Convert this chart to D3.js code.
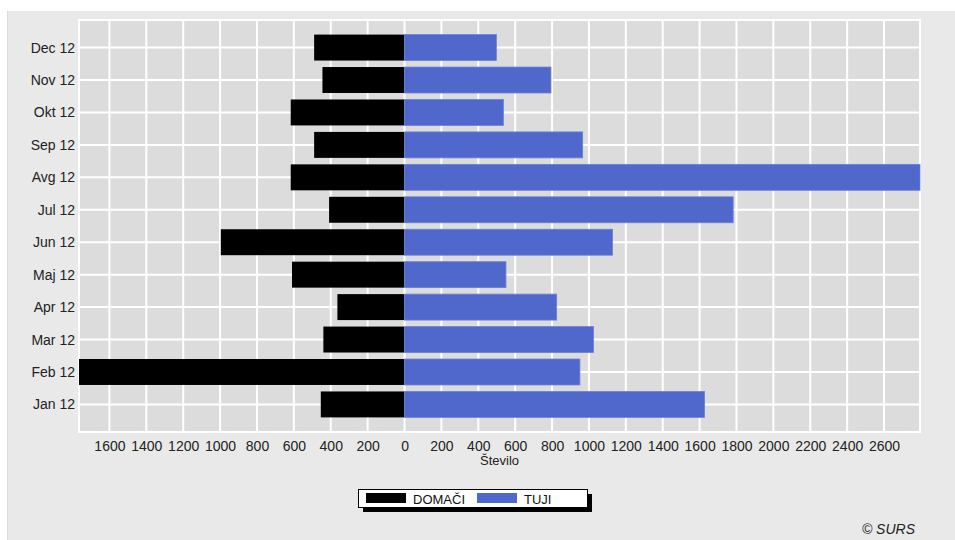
<!DOCTYPE html>
<html>
<head>
<meta charset="utf-8">
<script src="https://cdn.jsdelivr.net/npm/d3@7"></script>
<style>
  body { margin: 0; background: #fff; }
  text { font-family: Arial, "Liberation Sans", sans-serif; }
</style>
</head>
<body>
<div id="chart"></div>
<script>
// months, top to bottom as drawn
var months = ["Dec 12", "Nov 12", "Okt 12", "Sep 12", "Avg 12", "Jul 12", "Jun 12", "Maj 12", "Apr 12", "Mar 12", "Feb 12", "Jan 12"]
var domaci = [490, 445, 617, 490, 617, 409, 996, 610, 364, 440, 1765, 454]
var tuji = [498, 794, 536, 966, 2795, 1782, 1128, 550, 825, 1025, 951, 1627]
var xTicks = [-1600, -1400, -1200, -1000, -800, -600, -400, -200, 0, 200, 400, 600, 800, 1000, 1200, 1400, 1600, 1800, 2000, 2200, 2400, 2600]
var seriesNames = ["DOMAČI", "TUJI"]
var seriesColors = ["#000000", "#5068cc"]

var W = 955, H = 540
var margin = {top: 20, right: 35, bottom: 108, left: 79},
    width = W - margin.left - margin.right,
    height = H - margin.top - margin.bottom

var svg = d3.select("#chart").append("svg")
    .attr("width", W)
    .attr("height", H)

// outer panel
svg.append("rect")
    .attr("x", 7).attr("y", 11)
    .attr("width", W - 7).attr("height", H - 11)
    .attr("fill", "#e9e9e9")
svg.append("line")
    .attr("x1", 7.5).attr("x2", 7.5).attr("y1", 11).attr("y2", H)
    .attr("stroke", "#d6dde6")

var g = svg.append("g")
    .attr("transform", "translate(" + margin.left + "," + margin.top + ")")

var x = d3.scaleLinear()
    .domain([-d3.max(domaci), d3.max(tuji)])
    .range([0, width])

var y = d3.scalePoint()
    .domain(months)
    .range([0, height])
    .padding(0.85)

var barH = y.step() * 0.8

g.append("rect")
    .attr("width", width).attr("height", height)
    .attr("fill", "#dcdcdc")

// grid
g.selectAll(".vgrid").data(xTicks).enter().append("line")
    .attr("x1", function(d) { return x(d) }).attr("x2", function(d) { return x(d) })
    .attr("y1", 0).attr("y2", height)
    .attr("stroke", "#fff").attr("stroke-width", 2)

g.selectAll(".hgrid").data(months).enter().append("line")
    .attr("x1", 0).attr("x2", width)
    .attr("y1", function(d) { return y(d) }).attr("y2", function(d) { return y(d) })
    .attr("stroke", "#fff").attr("stroke-width", 2)

g.append("rect")
    .attr("width", width).attr("height", height)
    .attr("fill", "none").attr("stroke", "#fff").attr("stroke-width", 2)

// bars
g.selectAll(".dom").data(domaci).enter().append("rect")
    .attr("x", function(d) { return x(-d) })
    .attr("y", function(d, i) { return y(months[i]) - barH / 2 })
    .attr("width", function(d) { return x(0) - x(-d) })
    .attr("height", barH)
    .attr("fill", seriesColors[0])

g.selectAll(".tuj").data(tuji).enter().append("rect")
    .attr("x", x(0))
    .attr("y", function(d, i) { return y(months[i]) - barH / 2 })
    .attr("width", function(d) { return x(d) - x(0) })
    .attr("height", barH)
    .attr("fill", seriesColors[1])
    .attr("stroke", "#6c80d6").attr("stroke-width", 0.8)

// axes
var xAxis = d3.axisBottom(x)
    .tickValues(xTicks)
    .tickSize(0)
    .tickPadding(9)
    .tickFormat(function(d) { return Math.abs(d) })

var gx = g.append("g")
    .attr("transform", "translate(0," + height + ")")
    .call(xAxis)
gx.select(".domain").remove()
gx.selectAll("text").attr("font-size", 14).attr("fill", "#222")
    .style("font-family", "Arial, 'Liberation Sans', sans-serif")

var gy = g.append("g").call(d3.axisLeft(y).tickSize(0).tickPadding(4))
gy.select(".domain").remove()
gy.selectAll("text").attr("font-size", 14).attr("fill", "#222")
    .style("font-family", "Arial, 'Liberation Sans', sans-serif")

g.append("text")
    .attr("x", width / 2)
    .attr("y", height + 33)
    .attr("text-anchor", "middle")
    .attr("font-size", 13)
    .attr("fill", "#222")
    .text("Število")

// legend
var lg = svg.append("g").attr("transform", "translate(358,489)")
lg.append("rect").attr("x", 5).attr("y", 5).attr("width", 229).attr("height", 18).attr("fill", "#000")
lg.append("rect").attr("x", 0.5).attr("y", 0.5).attr("width", 229).attr("height", 18)
    .attr("fill", "#fff").attr("stroke", "#000")
var legX = [8, 119]
seriesNames.forEach(function(name, i) {
  lg.append("rect").attr("x", legX[i]).attr("y", 4).attr("width", 40).attr("height", 10)
      .attr("fill", seriesColors[i])
  lg.append("text").attr("x", legX[i] + 47).attr("y", 14.5)
      .attr("font-size", 13).attr("fill", "#111").text(name)
})

svg.append("text")
    .attr("x", 915).attr("y", 534)
    .attr("text-anchor", "end")
    .attr("font-size", 14)
    .attr("font-style", "italic")
    .attr("fill", "#222")
    .text("© SURS")
</script>
</body>
</html>
